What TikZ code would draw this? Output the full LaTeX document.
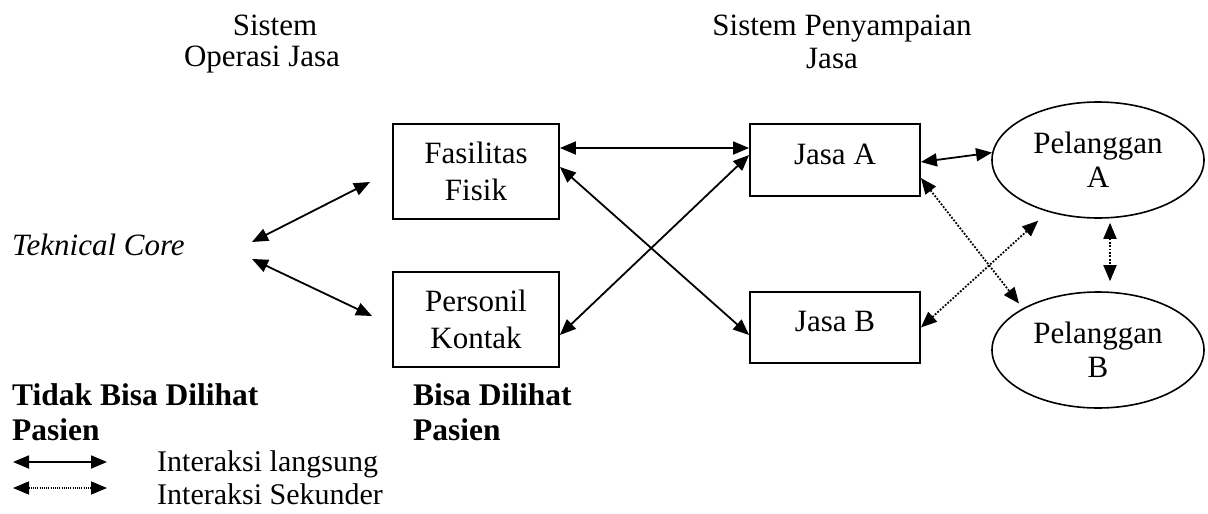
\documentclass[tikz,border=0pt]{standalone}
\usepackage{fontspec}
\setmainfont{Liberation Serif}
\usetikzlibrary{arrows.meta,shapes.geometric}
\begin{document}
\begin{tikzpicture}[x=1pt,y=-1pt,
  every node/.style={font=\fontsize{31}{36}\selectfont},
  lbl/.style={inner sep=0pt, anchor=base},
  lblw/.style={inner sep=0pt, anchor=base west},
  boxn/.style={draw, line width=1.8pt, rectangle, align=center, inner sep=0pt, minimum width=166pt},
  elln/.style={draw, line width=1.6pt, ellipse, align=center, inner sep=0pt, minimum width=212pt, minimum height=116pt, font=\fontsize{31}{34}\selectfont},
  tip/.style={>={Triangle[length=16pt,width=13pt]}},
  solidc/.style={line width=1.8pt, tip, <->},
  dotc/.style={line width=1.8pt, dash pattern=on 1.8pt off 1.6pt, tip, <->}
]
\useasboundingbox (0,0) rectangle (1208,514);

% headings
\node[lbl] (h1a) at (275,35) {Sistem};
\node[lbl] (h1b) at (262,66) {Operasi Jasa};
\node[lbl] (h2a) at (842,35) {Sistem Penyampaian};
\node[lbl] (h2b) at (832,68) {Jasa};

% core
\node[lblw] (core) at (12,255) {\itshape Teknical Core};

% boxes
\node[boxn, minimum height=95pt, font=\fontsize{31}{37}\selectfont] (fas) at (476,171.5) {Fasilitas\\Fisik};
\node[boxn, minimum height=95pt, font=\fontsize{31}{37}\selectfont] (per) at (476,319.5) {Personil\\Kontak};
\node[boxn, minimum width=170pt, minimum height=72pt, text depth=12pt] (ja) at (835,160) {Jasa A};
\node[boxn, minimum width=170pt, minimum height=71pt, text depth=12pt] (jb) at (835,327.5) {Jasa B};

% ellipses
\node[elln] (pa) at (1098,160) {Pelanggan\\A};
\node[elln] (pb) at (1098,350) {Pelanggan\\B};

% free ends near the core
\coordinate (t1) at (252,242);
\coordinate (f1) at (370,182);
\coordinate (t2) at (252,259);
\coordinate (p1) at (372,316);

\draw[solidc] (t1) -- (f1);
\draw[solidc] (t2) -- (p1);
\draw[solidc] ([yshift=23.5pt]fas.east) -- ([yshift=12pt]ja.west);
\draw[solidc] ([yshift=4.5pt]fas.east) -- ([yshift=-7.5pt]jb.west);
\draw[solidc] ([yshift=-15.5pt]per.east) -- ([yshift=5pt]ja.west);
\draw[solidc] ([yshift=-2pt]ja.east) -- (pa.176);

\draw[dotc, shorten >=6pt] ([yshift=-18pt]ja.east) -- (pb.151);
\draw[dotc, shorten >=13pt] (jb.east) -- (pa.226);
\draw[dotc, shorten <=4pt, shorten >=10pt] ([xshift=12pt]pa.south) -- ([xshift=12pt]pb.north);

% bottom labels
\node[lblw, font=\fontsize{31.5}{36}\selectfont\bfseries] (nv1) at (12,405) {Tidak Bisa Dilihat};
\node[lblw, font=\fontsize{31.5}{36}\selectfont\bfseries] (nv2) at (12,440) {Pasien};
\node[lblw, font=\fontsize{31.5}{36}\selectfont\bfseries] (v1) at (413,405) {Bisa Dilihat};
\node[lblw, font=\fontsize{31.5}{36}\selectfont\bfseries] (v2) at (413,440) {Pasien};

% legend
\coordinate (l1a) at (13,462);
\coordinate (l1b) at (107,462);
\coordinate (l2a) at (13,488);
\coordinate (l2b) at (107,488);
\draw[solidc] (l1a) -- (l1b);
\draw[line width=1.6pt, dash pattern=on 1pt off 1.2pt, tip, <->] (l2a) -- (l2b);
\node[lblw, font=\fontsize{30}{36}\selectfont] (leg1) at (157,471) {Interaksi langsung};
\node[lblw, font=\fontsize{30}{36}\selectfont] (leg2) at (157,504) {Interaksi Sekunder};
\end{tikzpicture}
\end{document}
